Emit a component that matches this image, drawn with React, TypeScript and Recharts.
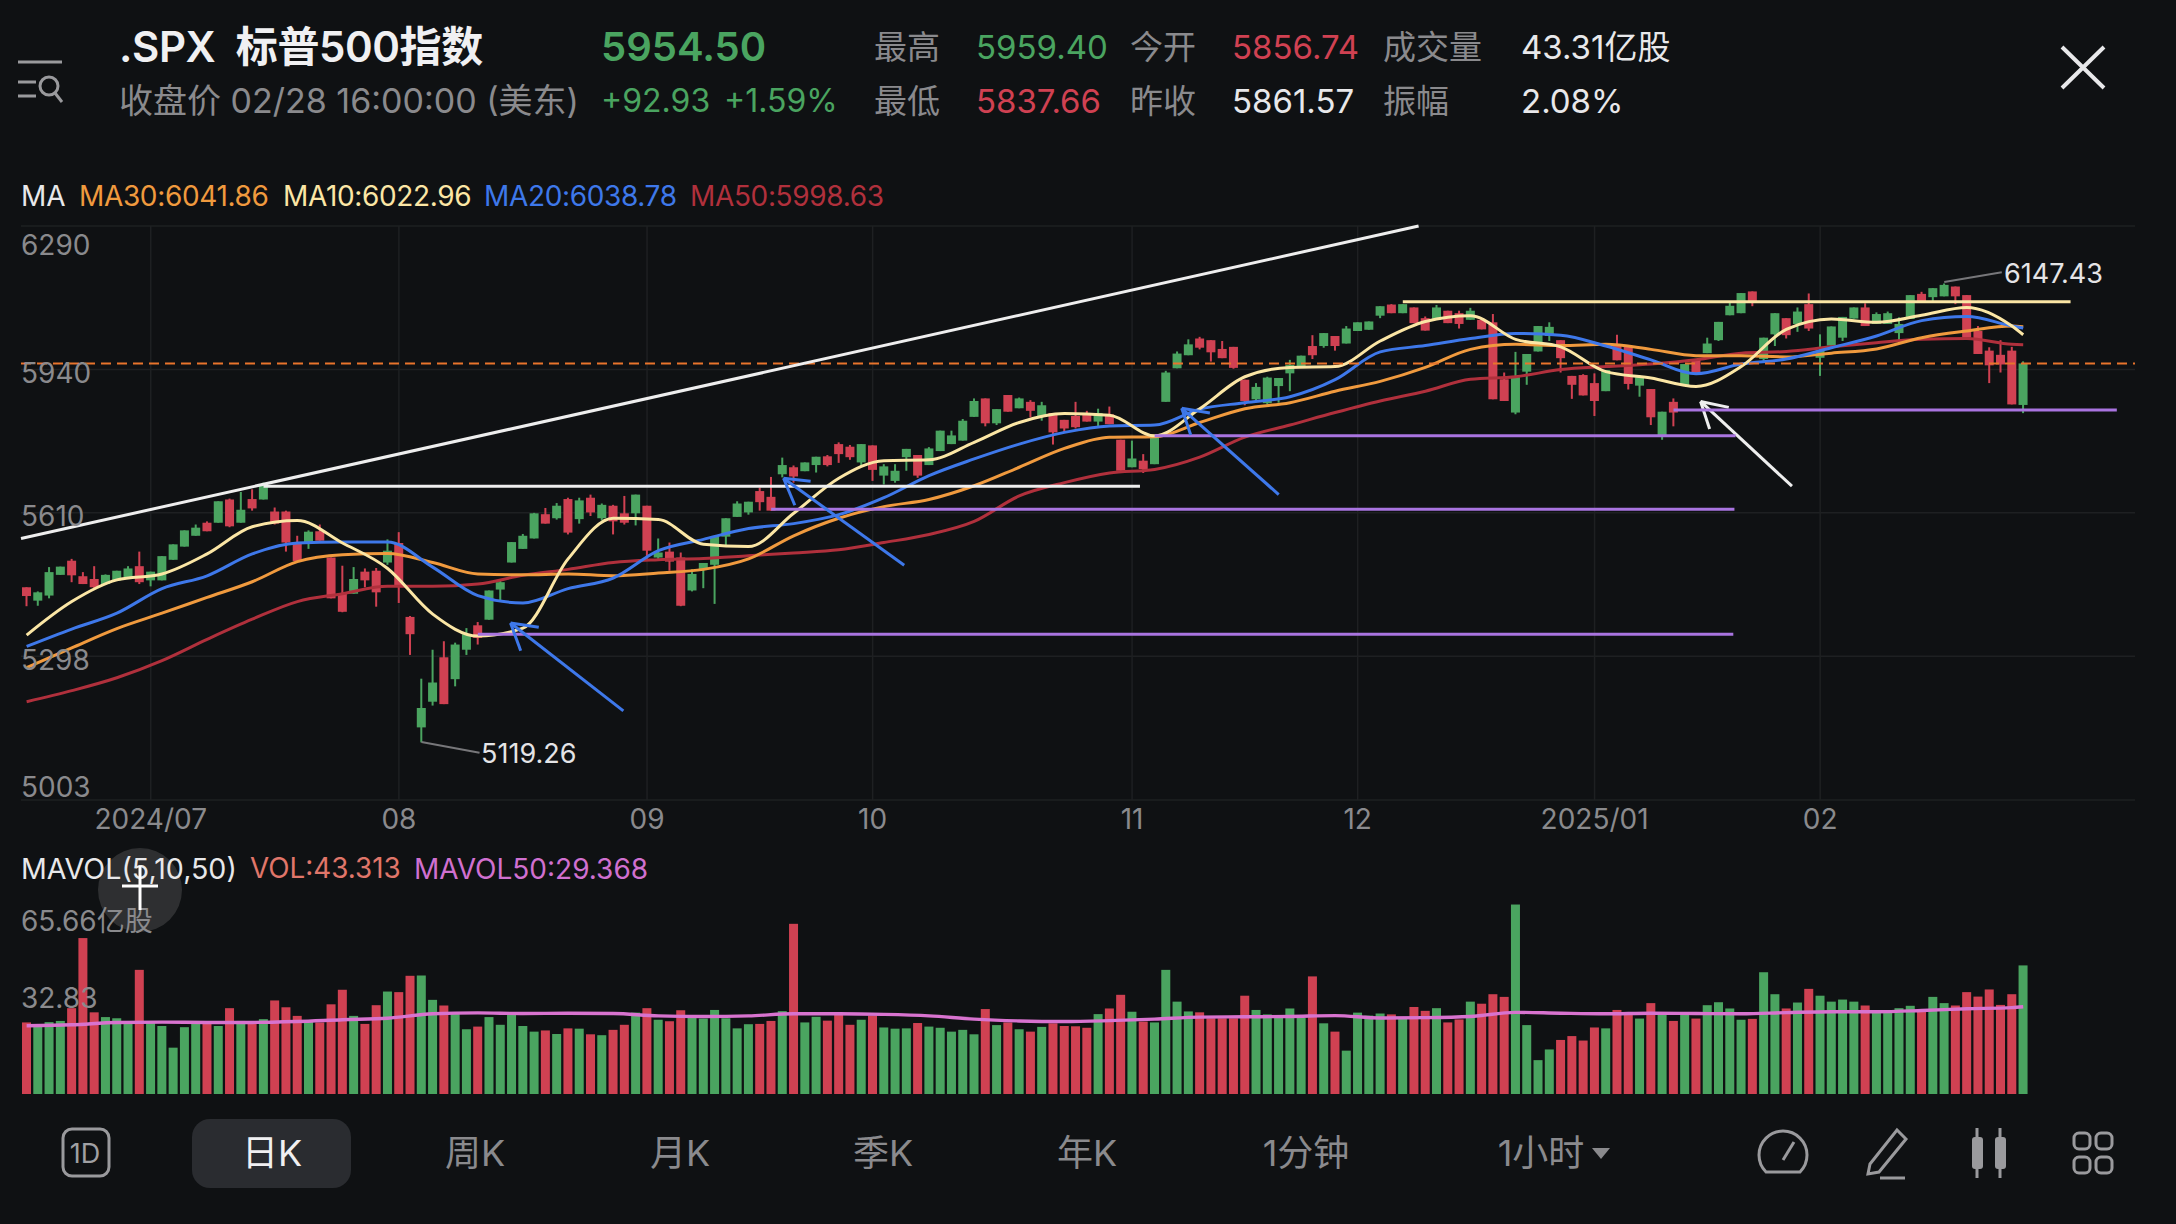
import { Bar, CartesianGrid, ComposedChart, Line, ReferenceLine, XAxis, YAxis } from "recharts";

// daily candles, 2024/06/14 to 2025/02/28
const opens = [
  5446, 5417, 5428, 5473, 5504, 5470, 5464, 5453, 5461, 5468,
  5492, 5461, 5461, 5506, 5535, 5559, 5588, 5588, 5640, 5588,
  5641, 5640, 5613, 5613, 5545, 5543, 5569, 5511, 5432, 5432,
  5480, 5482, 5500, 5543, 5382, 5150, 5203, 5296, 5250, 5312,
  5364, 5376, 5441, 5500, 5530, 5553, 5607, 5598, 5641, 5596,
  5644, 5598, 5626, 5609, 5609, 5626, 5511, 5524, 5511, 5439,
  5485, 5495, 5557, 5601, 5611, 5659, 5646, 5697, 5713, 5704,
  5718, 5738, 5766, 5760, 5724, 5763, 5694, 5682, 5736, 5741,
  5718, 5750, 5766, 5774, 5829, 5872, 5814, 5880, 5849, 5864,
  5830, 5838, 5822, 5831, 5838, 5818, 5835, 5776, 5713, 5728,
  5720, 5864, 5943, 5974, 6014, 6010, 5989, 5994, 5916, 5870,
  5861, 5901, 5931, 5947, 5996, 5996, 6020, 6002, 6032, 6035,
  6069, 6096, 6075, 6089, 6063, 6061, 6081, 6075, 6059, 6059,
  6053, 5917, 5839, 5935, 5983, 6020, 6010, 5925, 5927, 5908,
  5889, 6000, 5996, 5902, 5894, 5787, 5864, 5902, 5965, 5979,
  6010, 6070, 6075, 6128, 5965, 6024, 6063, 6049, 6097, 5968,
  5997, 6016, 6062, 6089, 6049, 6049, 6027, 6061, 6122, 6114,
  6116, 6140, 6119, 6032, 5985, 5975, 5985, 5856.74,
];
const highs = [
  5446, 5437, 5490, 5491, 5508, 5479, 5492, 5474, 5482, 5492,
  5524, 5480, 5514, 5540, 5571, 5584, 5591, 5636, 5642, 5657,
  5663, 5678, 5622, 5615, 5559, 5571, 5584, 5511, 5493, 5490,
  5487, 5488, 5551, 5567, 5384, 5251, 5312, 5330, 5327, 5358,
  5371, 5439, 5464, 5545, 5563, 5610, 5621, 5632, 5644, 5644,
  5651, 5631, 5628, 5648, 5651, 5626, 5553, 5544, 5522, 5485,
  5499, 5557, 5598, 5636, 5635, 5667, 5691, 5735, 5717, 5724,
  5737, 5741, 5770, 5764, 5766, 5763, 5720, 5720, 5755, 5741,
  5759, 5797, 5797, 5824, 5872, 5872, 5847, 5880, 5874, 5868,
  5864, 5838, 5822, 5864, 5843, 5848, 5853, 5776, 5774, 5743,
  5782, 5937, 5983, 6012, 6018, 6010, 6008, 5994, 5916, 5908,
  5923, 5920, 5963, 5973, 6022, 6027, 6020, 6044, 6053, 6055,
  6092, 6097, 6097, 6089, 6067, 6095, 6081, 6081, 6088, 6060,
  6073, 5933, 5982, 5977, 6044, 6053, 6010, 5925, 5929, 5931,
  5939, 6023, 5996, 5927, 5894, 5841, 5872, 5953, 5965, 6016,
  6054, 6101, 6124, 6128, 6016, 6075, 6063, 6089, 6123, 6024,
  6043, 6066, 6089, 6099, 6077, 6079, 6065, 6119, 6127, 6136,
  6147.43, 6140, 6119, 6044, 5993, 6010, 5994, 5959.4,
];
const lows = [
  5405, 5406, 5422, 5473, 5457, 5453, 5444, 5452, 5461, 5466,
  5453, 5448, 5461, 5506, 5535, 5559, 5569, 5588, 5578, 5588,
  5615, 5640, 5584, 5524, 5503, 5530, 5548, 5422, 5392, 5432,
  5446, 5404, 5495, 5412, 5301, 5119.26, 5195, 5198, 5235, 5301,
  5323, 5376, 5417, 5500, 5530, 5553, 5586, 5595, 5562, 5586,
  5603, 5593, 5562, 5584, 5582, 5508, 5508, 5482, 5405, 5437,
  5444, 5410, 5537, 5601, 5606, 5615, 5615, 5690, 5678, 5704,
  5701, 5715, 5723, 5730, 5715, 5682, 5674, 5678, 5705, 5689,
  5718, 5750, 5766, 5774, 5829, 5807, 5810, 5841, 5849, 5828,
  5820, 5765, 5793, 5802, 5818, 5806, 5812, 5705, 5713, 5700,
  5720, 5864, 5943, 5974, 5988, 5959, 5967, 5942, 5856, 5868,
  5858, 5862, 5889, 5947, 5965, 5992, 5985, 6002, 6032, 6035,
  6063, 6075, 6075, 6051, 6033, 6061, 6051, 6038, 6059, 6036,
  5870, 5866, 5835, 5904, 5983, 6008, 5933, 5871, 5879, 5831,
  5889, 5962, 5893, 5876, 5810, 5776, 5807, 5902, 5931, 5979,
  6008, 6070, 6075, 6092, 5960, 5996, 6014, 6030, 6032, 5925,
  5997, 6008, 6062, 6044, 6049, 6049, 6010, 6061, 6103, 6105,
  6116, 6097, 6016, 5977, 5908, 5933, 5858, 5837.66,
];
const closes = [
  5427, 5435, 5479, 5491, 5472, 5453, 5446, 5473, 5482, 5487,
  5457, 5480, 5514, 5540, 5571, 5577, 5569, 5636, 5580, 5617,
  5620, 5674, 5586, 5544, 5503, 5568, 5548, 5422, 5393, 5464,
  5461, 5435, 5526, 5448, 5345, 5190, 5243, 5198, 5323, 5345,
  5337, 5439, 5457, 5545, 5559, 5609, 5586, 5626, 5566, 5638,
  5611, 5628, 5591, 5588, 5651, 5526, 5522, 5502, 5406, 5475,
  5499, 5557, 5598, 5631, 5635, 5634, 5615, 5718, 5692, 5724,
  5737, 5718, 5743, 5736, 5766, 5707, 5715, 5705, 5755, 5694,
  5756, 5797, 5786, 5820, 5866, 5814, 5847, 5841, 5872, 5843,
  5856, 5793, 5802, 5805, 5818, 5838, 5812, 5705, 5733, 5709,
  5782, 5933, 5978, 6000, 5992, 5981, 5967, 5944, 5866, 5899,
  5921, 5920, 5951, 5973, 5974, 6027, 5996, 6038, 6053, 6055,
  6092, 6075, 6097, 6051, 6033, 6089, 6051, 6049, 6081, 6036,
  5870, 5866, 5922, 5977, 6044, 6042, 5967, 5904, 5879, 5866,
  5939, 5962, 5906, 5922, 5828, 5841, 5839, 5953, 5931, 6002,
  6054, 6093, 6124, 6101, 6016, 6075, 6022, 6079, 6038, 5985,
  6043, 6066, 6089, 6044, 6073, 6075, 6049, 6119, 6103, 6136,
  6144, 6116, 6016, 5977, 5950, 5952, 5858, 5954.5,
];
const volumes = [
  24.1, 22.7, 24.2, 24.6, 28.9, 52.5, 27.5, 25.9, 25.5, 24.4,
  41.8, 24.4, 22.9, 15.6, 22.5, 24.1, 23.8, 22.9, 28.9, 24.6,
  23.6, 25.2, 31.5, 29.2, 26.3, 24.6, 24.1, 30.2, 35.1, 26.3,
  23.6, 29.9, 34.5, 34.3, 39.8, 39.9, 31.7, 29.8, 27.2, 21.8,
  22.7, 25.9, 23.3, 26.6, 22.9, 21.0, 21.4, 20.2, 22.1, 22.0,
  20.1, 19.8, 21.6, 23.3, 27.4, 28.9, 25.0, 24.5, 28.2, 25.9,
  25.4, 28.3, 25.5, 22.1, 23.5, 23.6, 24.6, 27.9, 57.3, 24.1,
  26.0, 24.7, 27.5, 23.3, 25.0, 26.4, 22.4, 22.0, 22.1, 23.9,
  22.7, 22.3, 21.0, 21.6, 20.1, 28.6, 23.2, 24.1, 21.8, 21.0,
  22.6, 23.8, 22.9, 22.8, 22.3, 26.9, 28.8, 33.4, 27.7, 24.4,
  24.1, 41.8, 31.1, 27.8, 27.5, 25.5, 25.5, 25.5, 33.1, 28.3,
  26.8, 25.7, 28.8, 25.7, 39.6, 23.8, 21.0, 14.6, 27.4, 26.4,
  27.1, 26.8, 25.5, 29.3, 28.0, 28.9, 24.1, 25.1, 31.1, 30.4,
  33.6, 32.7, 63.8, 23.2, 11.4, 15.0, 18.2, 19.5, 18.0, 22.4,
  22.1, 28.3, 27.0, 25.4, 30.6, 27.0, 24.6, 27.5, 25.4, 29.9,
  30.9, 28.8, 25.0, 25.3, 41.0, 33.6, 28.8, 30.8, 35.4, 33.1,
  31.1, 31.8, 31.1, 29.8, 27.8, 28.1, 28.9, 29.7, 27.9, 32.7,
  30.6, 29.8, 34.3, 32.8, 35.2, 30.0, 33.6, 43.3,
];

// moving averages read every 4th bar, plus the last bar
const ma10 = [
  5343, 5415, 5462, 5475, 5519, 5579, 5593, 5543, 5487, 5388, 5341, 5358,
  5508, 5598, 5595, 5540, 5535, 5609, 5688, 5728, 5730, 5770, 5816, 5837,
  5833, 5785, 5848, 5923, 5945, 5947, 6008, 6055, 6069, 6012, 5994, 5935,
  5920, 5900, 5947, 6036, 6061, 6053, 6070, 6089, 6044, 6023,
];
const ma20 = [
  5319, 5356, 5390, 5443, 5471, 5519, 5543, 5545, 5545, 5490, 5428, 5412,
  5443, 5466, 5526, 5551, 5575, 5586, 5606, 5644, 5694, 5732, 5766, 5793,
  5808, 5810, 5847, 5862, 5876, 5916, 5982, 5997, 6014, 6026, 6022, 5996,
  5963, 5930, 5953, 5965, 5992, 6020, 6057, 6067, 6044, 6039,
];
const ma30 = [
  5274, 5316, 5357, 5390, 5424, 5458, 5502, 5517, 5520, 5500, 5475, 5473,
  5475, 5471, 5477, 5485, 5508, 5559, 5598, 5624, 5640, 5671, 5713, 5756,
  5782, 5783, 5816, 5848, 5862, 5889, 5912, 5945, 5988, 6000, 5997, 6000,
  5988, 5973, 5973, 5970, 5979, 5989, 6016, 6032, 6044, 6042,
];
const ma50 = [
  5203, 5226, 5253, 5289, 5334, 5377, 5415, 5432, 5448, 5448, 5453, 5472,
  5485, 5500, 5506, 5509, 5515, 5521, 5528, 5544, 5562, 5591, 5648, 5678,
  5700, 5708, 5736, 5782, 5810, 5839, 5866, 5889, 5917, 5923, 5940, 5947,
  5953, 5963, 5979, 5983, 5994, 6004, 6012, 6014, 6000, 5999,
];
const mavol50 = [
  23.0, 23.3, 24.1, 24.2, 24.1, 24.1, 24.4, 25.0, 25.5, 27.0, 27.3, 27.1,
  27.2, 27.1, 26.3, 26.1, 26.3, 27.0, 27.0, 26.8, 26.3, 25.2, 24.6, 24.4,
  24.7, 25.2, 25.9, 26.0, 26.1, 26.4, 25.6, 25.7, 26.1, 27.5, 27.2, 27.0,
  27.2, 27.1, 27.0, 27.4, 27.7, 27.7, 28.1, 28.7, 29.1, 29.37,
];

const priceTicks = [5003, 5298, 5610, 5940, 6290];
const volumeTicks = [0, 32.83, 65.66];
const monthTicks = [11, 33, 55, 75, 98, 118, 139, 159];
const monthLabels = ["2024/07", "08", "09", "10", "11", "12", "2025/01", "02"];

// hand drawn lines on the chart: [bar, price, bar, price]
const whiteLines = [
  [-0.5, 5553, 123.4, 6290],
  [21, 5670, 98.7, 5670],
  [156.5, 5670, 148.4, 5865],
  [148.4, 5865, 150.9, 5851],
  [148.4, 5865, 149.2, 5801],
];
const yellowLines = [[122, 6103, 181.2, 6103]];
const purpleLines = [
  [40, 5345, 151.3, 5345],
  [66, 5618, 151.4, 5618],
  [100, 5785, 151.5, 5785],
  [146, 5845, 185.3, 5845],
];
const blueLines = [
  [52.9, 5184, 42.9, 5369],
  [42.9, 5369, 45.4, 5360],
  [42.9, 5369, 43.8, 5310],
  [77.8, 5494, 67.1, 5688],
  [67.1, 5688, 69.5, 5681],
  [67.1, 5688, 68.1, 5627],
  [111, 5651, 102.4, 5849],
  [102.4, 5849, 104.9, 5838],
  [102.4, 5849, 103.2, 5787],
];
const calloutLines = [
  [35, 5120, 40.15, 5098],
  [170, 6151, 175.1, 6175],
];

const GREEN = "#4aa460";
const RED = "#d04152";
const GRAY = "#8a8a8d";
const FONT = 'Inter, "Noto Sans CJK SC", sans-serif';
const BG = "#0f1113";

const rows = Array.from({ length: 188 }, (_, i) => {
  const k = i === 177 ? 45 : i < 177 && i % 4 === 0 ? i / 4 : -1;
  return {
    idx: i,
    range: i < closes.length ? [lows[i], highs[i]] : null,
    open: opens[i],
    high: highs[i],
    low: lows[i],
    close: closes[i],
    vol: volumes[i],
    ma10: k >= 0 ? ma10[k] : null,
    ma20: k >= 0 ? ma20[k] : null,
    ma30: k >= 0 ? ma30[k] : null,
    ma50: k >= 0 ? ma50[k] : null,
    mavol50: k >= 0 ? mavol50[k] : null,
  };
});

function Candle(props: any) {
  const { x, y, width, height, payload } = props;
  if (payload.high == null) return null;
  const { open, high, low, close } = payload;
  const span = Math.log(high) - Math.log(low);
  const toY = (v: number) => y + (height * (Math.log(high) - Math.log(v))) / span;
  const color = close >= open ? GREEN : RED;
  const top = toY(Math.max(open, close));
  const bottom = toY(Math.min(open, close));
  return (
    <g>
      <rect x={x + width / 2 - 1} y={y} width={2} height={height} fill={color} />
      <rect x={x} y={top} width={width} height={Math.max(bottom - top, 1.5)} fill={color} />
    </g>
  );
}

function VolumeBar(props: any) {
  const { x, y, width, height, payload } = props;
  if (payload.vol == null) return null;
  return <rect x={x} y={y} width={width} height={height} fill={payload.close >= payload.open ? GREEN : RED} />;
}

function PriceTick(props: any) {
  const { y, payload } = props;
  const dy = payload.value === 6290 ? 19 : payload.value === 5003 ? -13 : 3.5;
  return (
    <text x={21} y={y + dy} dy="0.36em" fill={GRAY} fontSize={28} fontFamily={FONT}>
      {payload.value}
    </text>
  );
}

function MonthTick(props: any) {
  const { x, y, payload } = props;
  return (
    <text x={x} y={y + 13} dy="0.36em" textAnchor="middle" fill={GRAY} fontSize={28} fontFamily={FONT}>
      {monthLabels[monthTicks.indexOf(payload.value)]}
    </text>
  );
}

function Txt({ x, y, c = "#e8e8ea", s = 32, w = 400, a = "left", ls = 0, children }: any) {
  const shift = a === "center" ? "translate(-50%,-50%)" : "translateY(-50%)";
  return (
    <div
      style={{
        position: "absolute", left: x, top: y, transform: shift, color: c, fontSize: s, fontWeight: w,
        fontFamily: FONT, whiteSpace: "nowrap", lineHeight: 1, letterSpacing: ls,
      }}
    >
      {children}
    </div>
  );
}

const segs = (list: number[][], color: string, width: number) =>
  list.map((l, i) => (
    <ReferenceLine
      key={color + i}
      xAxisId="draw"
      segment={[{ x: l[0], y: l[1] }, { x: l[2], y: l[3] }]}
      stroke={color}
      strokeWidth={width}
      ifOverflow="visible"
    />
  ));

const maLine = (key: string, color: string) => (
  <Line
    dataKey={key}
    type="monotone"
    stroke={color}
    strokeWidth={3}
    dot={false}
    connectNulls
    isAnimationActive={false}
  />
);

function Icons() {
  const st = { fill: "none", stroke: "#9a9a9d", strokeWidth: 3 };
  return (
    <svg width={2176} height={1224} style={{ position: "absolute", left: 0, top: 0, pointerEvents: "none" }}>
      <g stroke="#9a9a9d" strokeWidth={3} fill="none">
        <path d="M18 62H62M18 82H36M18 96H36" />
        <circle cx={49} cy={86} r={9} />
        <path d="M55 93L62 102" />
      </g>
      <path d="M2062 47L2104 88M2104 47L2062 88" stroke="#e8e8ea" strokeWidth={4} />
      <rect x={63} y={1129} width={46} height={47} rx={9} {...st} />
      <rect x={192} y={1119} width={159} height={69} rx={18} fill="#2a2c30" />
      <path d="M1592 1148H1610L1601 1159Z" fill={GRAY} />
      <path d="M1766 1172A24 24 0 1 1 1800 1172Z" {...st} />
      <path d="M1783 1160L1794 1142" {...st} />
      <path d="M1870 1164L1897 1130L1906 1139L1879 1172L1868 1174ZM1880 1178H1905" {...st} />
      <rect x={1972} y={1137} width={11} height={32} rx={3} fill="#9a9a9d" />
      <rect x={1995} y={1137} width={11} height={32} rx={3} fill="#9a9a9d" />
      <path d="M1977 1128V1178M2000 1128V1178" {...st} />
      <rect x={2074} y={1133} width={16} height={16} rx={5} {...st} />
      <rect x={2096} y={1133} width={16} height={16} rx={5} {...st} />
      <rect x={2074} y={1157} width={16} height={16} rx={5} {...st} />
      <rect x={2096} y={1157} width={16} height={16} rx={5} {...st} />
    </svg>
  );
}

export default function App() {
  return (
    <div style={{ position: "absolute", left: 0, top: 0, width: 2176, height: 1224, background: BG, overflow: "hidden" }}>
      <Icons />
      <Txt x={119} y={47} s={42} w={600} ls={-0.4} c="#f0f0f2">.SPX&nbsp;&nbsp;标普500指数</Txt>
      <Txt x={601} y={47} s={40} w={600} c={GREEN}>5954.50</Txt>
      <Txt x={119} y={101} s={34} c={GRAY}>收盘价 02/28 16:00:00 (美东)</Txt>
      <Txt x={601} y={101} s={32} c={GREEN}>+92.93</Txt>
      <Txt x={724} y={101} s={32} c={GREEN}>+1.59%</Txt>
      <Txt x={874} y={47} s={33} c={GRAY}>最高</Txt>
      <Txt x={976} y={47} s={33} c={GREEN}>5959.40</Txt>
      <Txt x={1130} y={47} s={33} c={GRAY}>今开</Txt>
      <Txt x={1232} y={47} s={33} c={RED}>5856.74</Txt>
      <Txt x={1383} y={47} s={33} c={GRAY}>成交量</Txt>
      <Txt x={1521} y={47} s={33}>43.31亿股</Txt>
      <Txt x={874} y={101} s={33} c={GRAY}>最低</Txt>
      <Txt x={976} y={101} s={33} c={RED}>5837.66</Txt>
      <Txt x={1130} y={101} s={33} c={GRAY}>昨收</Txt>
      <Txt x={1232} y={101} s={33}>5861.57</Txt>
      <Txt x={1383} y={101} s={33} c={GRAY}>振幅</Txt>
      <Txt x={1521} y={101} s={33}>2.08%</Txt>

      <Txt x={21} y={196} s={28}>MA</Txt>
      <Txt x={79} y={196} s={28} ls={-0.35} c="#f09a3e">MA30:6041.86</Txt>
      <Txt x={283} y={196} s={28} ls={-0.35} c="#fbe6a5">MA10:6022.96</Txt>
      <Txt x={484} y={196} s={28} ls={-0.35} c="#3e78ea">MA20:6038.78</Txt>
      <Txt x={690} y={196} s={28} ls={-0.35} c="#b0303c">MA50:5998.63</Txt>

      <div style={{ position: "absolute", left: 0, top: 200, width: 2135, height: 640, overflow: "hidden" }}>
        <ComposedChart
          width={2176}
          height={640}
          data={rows}
          margin={{ top: 26, right: 34.36, bottom: 0, left: 21 }}
          barSize={9}
        >
          <CartesianGrid stroke="#1e2022" strokeWidth={1.5} syncWithTicks />
          <XAxis
            dataKey="idx"
            ticks={monthTicks}
            interval={0}
            axisLine={false}
            tickLine={false}
            height={40}
            tickMargin={0}
            tick={<MonthTick />}
          />
          <XAxis xAxisId="draw" type="number" dataKey="idx" domain={[-0.5, 187.5]} hide allowDataOverflow />
          <YAxis
            scale="log"
            domain={[5003, 6290]}
            ticks={priceTicks}
            interval={0}
            width={1}
            mirror
            axisLine={false}
            tickLine={false}
            allowDataOverflow
            tick={<PriceTick />}
          />
          <Bar dataKey="range" shape={<Candle />} isAnimationActive={false} />
          {maLine("ma50", "#b0303c")}
          {maLine("ma30", "#f09a3e")}
          {maLine("ma20", "#3e78ea")}
          {maLine("ma10", "#fbe6a5")}
          <ReferenceLine y={5954.5} stroke="#e8742c" strokeWidth={2} strokeDasharray="10 6" />
          {segs(whiteLines, "#eeeeee", 3)}
          {segs(yellowLines, "#fbe6a5", 3)}
          {segs(purpleLines, "#a974e0", 3)}
          {segs(blueLines, "#3e78ea", 3)}
          {segs(calloutLines, "#77777a", 2)}
        </ComposedChart>
      </div>
      <Txt x={481} y={753} s={27} c="#e4e4e6">5119.26</Txt>
      <Txt x={2004} y={273} s={27} c="#e4e4e6">6147.43</Txt>

      <div style={{ position: "absolute", left: 98, top: 848, width: 84, height: 84, borderRadius: 42, background: "rgba(255,255,255,0.13)" }} />
      <Txt x={21} y={869} s={28.6}>MAVOL(5,10,50)</Txt>
      <Txt x={250} y={869} s={27.8} c="#e0766a">VOL:43.313</Txt>
      <Txt x={414} y={869} s={28} c="#d070d0">MAVOL50:29.368</Txt>

      <div style={{ position: "absolute", left: 0, top: 890, width: 2135, height: 210, overflow: "hidden" }}>
        <ComposedChart
          width={2176}
          height={210}
          data={rows}
          margin={{ top: 9, right: 34.36, bottom: 6, left: 21 }}
          barSize={9}
        >
          <CartesianGrid stroke="#1e2022" strokeWidth={1.5} syncWithTicks />
          <XAxis dataKey="idx" ticks={monthTicks} interval={0} axisLine={false} tickLine={false} tick={false} height={0} />
          <YAxis domain={[0, 65.66]} ticks={volumeTicks} width={0} axisLine={false} tickLine={false} tick={false} />
          <Bar dataKey="vol" shape={<VolumeBar />} isAnimationActive={false} />
          <Line dataKey="mavol50" type="monotone" stroke="#d873cf" strokeWidth={3.4} dot={false} connectNulls isAnimationActive={false} />
        </ComposedChart>
      </div>
      <Txt x={21} y={921} s={28} c={GRAY}>65.66亿股</Txt>
      <Txt x={21} y={998} s={28} c={GRAY}>32.83</Txt>
      <svg width={60} height={60} style={{ position: "absolute", left: 110, top: 860 }}>
        <path d="M30 6V50M12 26H48" stroke="#ffffff" strokeWidth={3} />
      </svg>

      <Txt x={85} y={1153} s={27} a="center" c="#a0a0a3">1D</Txt>
      <Txt x={272} y={1153} s={36} a="center" c="#f0f0f2">日K</Txt>
      <Txt x={475} y={1153} s={36} a="center" c={GRAY}>周K</Txt>
      <Txt x={680} y={1153} s={36} a="center" c={GRAY}>月K</Txt>
      <Txt x={883} y={1153} s={36} a="center" c={GRAY}>季K</Txt>
      <Txt x={1087} y={1153} s={36} a="center" c={GRAY}>年K</Txt>
      <Txt x={1306} y={1153} s={36} a="center" c={GRAY}>1分钟</Txt>
      <Txt x={1541} y={1153} s={36} a="center" c={GRAY}>1小时</Txt>
    </div>
  );
}
